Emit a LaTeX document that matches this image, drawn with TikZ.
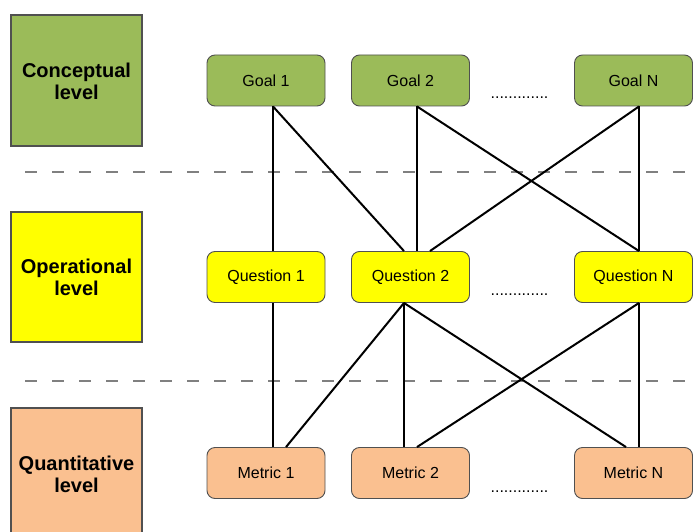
\documentclass[tikz,border=0pt]{standalone}
\usepackage{fontspec}
\setmainfont{Liberation Sans}
\usetikzlibrary{positioning}
\definecolor{goalgreen}{HTML}{9BBB59}
\definecolor{qyellow}{HTML}{FFFF00}
\definecolor{mpeach}{HTML}{FAC090}
\definecolor{edgegray}{HTML}{505050}
\definecolor{dashgray}{HTML}{808080}
\tikzset{
  levelbox/.style={draw=edgegray, line width=1.2pt},
  leveltext/.style={font=\fontsize{20}{22}\selectfont\bfseries, align=center, inner sep=0pt},
  itembox/.style={draw=edgegray, line width=0.9pt, rounded corners=8pt,
    minimum width=118pt, minimum height=51pt, inner sep=0pt,
    font=\fontsize{16}{18}\selectfont},
  goalbox/.style={itembox, fill=goalgreen},
  questionbox/.style={itembox, fill=qyellow},
  metricbox/.style={itembox, fill=mpeach},
  link/.style={line width=2pt, black},
  separator/.style={dashgray, line width=1.3pt, dash pattern=on 12pt off 15pt},
  ellipsisdots/.style={font=\fontsize{16}{18}\selectfont, anchor=base, inner sep=0pt}
}
\begin{document}
\begin{tikzpicture}[x=1pt,y=-1pt]
\useasboundingbox (0,0) rectangle (693,532);

% level boxes on the left
\filldraw[levelbox, fill=goalgreen] (11,15) rectangle (142,146);
\node[leveltext] (conc) at (76.5,81) {Conceptual\\level};
\filldraw[levelbox, fill=qyellow] (11,212) rectangle (142,342);
\node[leveltext] (oper) at (76.5,277) {Operational\\level};
\filldraw[levelbox, fill=mpeach] (11,408) rectangle (142,540);
\node[leveltext] (quan) at (76.5,474) {Quantitative\\level};

% separators between levels
\coordinate (s1a) at (25,172);
\coordinate (s1b) at (700,172);
\coordinate (s2a) at (25,381);
\coordinate (s2b) at (700,381);
\draw[separator] (s1a) -- (s1b);
\draw[separator] (s2a) -- (s2b);

% goals
\node[goalbox] (g1) at (266,80.5) {Goal 1};
\node[goalbox] (g2) at (410.5,80.5) {Goal 2};
\node[goalbox] (gn) at (633.5,80.5) {Goal N};
\node[ellipsisdots] (gd) at (519.5,98.5) {.............};

% questions
\node[questionbox] (q1) at (266,277) {Question 1};
\node[questionbox] (q2) at (410.5,277) {Question 2};
\node[questionbox] (qn) at (633.5,277) {Question N};
\node[ellipsisdots] (qd) at (519.5,295.5) {.............};

% metrics
\node[metricbox] (m1) at (266,473) {Metric 1};
\node[metricbox] (m2) at (410.5,473) {Metric 2};
\node[metricbox] (mn) at (633.5,473) {Metric N};
\node[ellipsisdots] (md) at (519.5,492) {.............};

% goal -> question links
\draw[link] ([xshift=7pt]g1.south) -- ([xshift=7pt]q1.north);
\draw[link] ([xshift=7pt]g1.south) -- ([xshift=-6.5pt]q2.north);
\draw[link] ([xshift=6.5pt]g2.south) -- ([xshift=6.5pt]q2.north);
\draw[link] ([xshift=6.5pt]g2.south) -- ([xshift=5.5pt]qn.north);
\draw[link] ([xshift=5.5pt]gn.south) -- ([xshift=19.5pt]q2.north);
\draw[link] ([xshift=5.5pt]gn.south) -- ([xshift=5.5pt]qn.north);

% question -> metric links
\draw[link] ([xshift=7pt]q1.south) -- ([xshift=7pt]m1.north);
\draw[link] ([xshift=-6.5pt]q2.south) -- ([xshift=20pt]m1.north);
\draw[link] ([xshift=-6.5pt]q2.south) -- ([xshift=-6.5pt]m2.north);
\draw[link] ([xshift=-6.5pt]q2.south) -- ([xshift=-7.5pt]mn.north);
\draw[link] ([xshift=5.5pt]qn.south) -- ([xshift=6.5pt]m2.north);
\draw[link] ([xshift=5.5pt]qn.south) -- ([xshift=5.5pt]mn.north);
\end{tikzpicture}
\end{document}
